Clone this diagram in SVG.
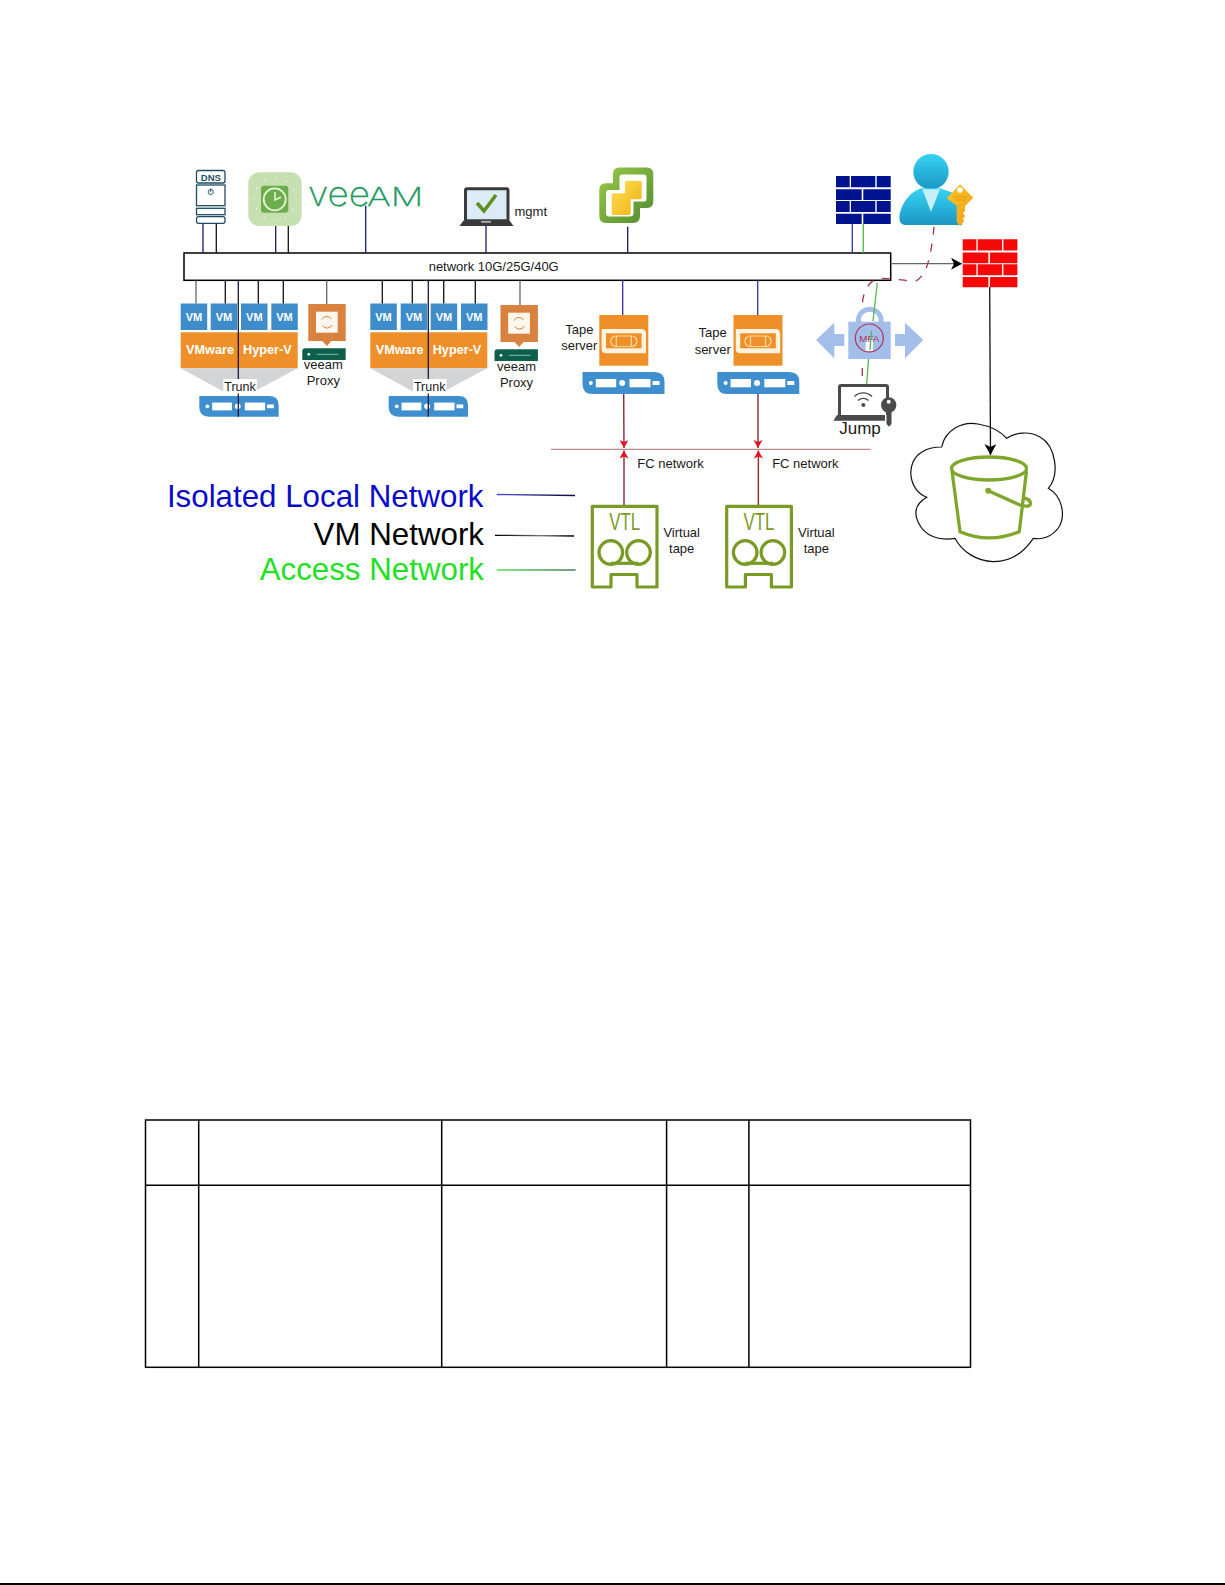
<svg xmlns="http://www.w3.org/2000/svg" width="1225" height="1585" viewBox="0 0 1225 1585">
<style>
text{font-family:"Liberation Sans",Arial,sans-serif}
.lb{font-size:13px;fill:#1a1a1a;text-anchor:middle}
.vm{font-size:11px;font-weight:700;fill:#fff;text-anchor:middle}
.hv{font-size:12.7px;font-weight:700;fill:#fff;text-anchor:middle}
.leg{font-size:31.3px;text-anchor:end}
.vee{font-family:Inter,"Liberation Sans",sans-serif;font-weight:200;fill:#1f9a5f;stroke:#1f9a5f;stroke-width:.3}
.c{fill:none;stroke-width:1.3}
.blk{stroke:#111}
.nvy{stroke:#1a1a6e}
.blu{stroke:#3030b0}
.gry{stroke:#666}
.grn{stroke:#4fb84f}
.fc{stroke:#8a2a2a;stroke-width:1.4}
.dash{stroke:#a3324f;stroke-dasharray:8 9}
.tb{fill:none;stroke:#000;stroke-width:1.5}
</style>
<defs>
<marker id="ah" markerUnits="userSpaceOnUse" markerWidth="13" markerHeight="13" refX="11" refY="6" orient="auto"><path d="M0 0L11 6L0 12L3 6Z" fill="#000"/></marker>
<marker id="rh" markerUnits="userSpaceOnUse" markerWidth="10" markerHeight="10" refX="8" refY="4.5" orient="auto"><path d="M0 0L8 4.5L0 9L2 4.5Z" fill="#e8101f"/></marker>
<linearGradient id="gb" gradientUnits="userSpaceOnUse" x1="497" y1="0" x2="575" y2="0"><stop offset="0" stop-color="#4a4ad8"/><stop offset=".6" stop-color="#20206a"/><stop offset="1" stop-color="#10103a"/></linearGradient>
<linearGradient id="gk" gradientUnits="userSpaceOnUse" x1="495" y1="0" x2="574" y2="0"><stop offset="0" stop-color="#000"/><stop offset=".6" stop-color="#777"/><stop offset="1" stop-color="#000"/></linearGradient>
<linearGradient id="gg" gradientUnits="userSpaceOnUse" x1="497" y1="0" x2="575" y2="0"><stop offset="0" stop-color="#55e055"/><stop offset="1" stop-color="#4a7a5a"/></linearGradient>
<linearGradient id="gp" x1="0" y1="0" x2="0" y2="1"><stop offset="0" stop-color="#35d3f3"/><stop offset="1" stop-color="#1b96c4"/></linearGradient>
<linearGradient id="gv" x1="0" y1="0" x2="1" y2="1"><stop offset="0" stop-color="#9ccb4a"/><stop offset="1" stop-color="#4f8a2f"/></linearGradient>
<linearGradient id="gy" x1="0" y1="0" x2="1" y2="1"><stop offset="0" stop-color="#fbd94a"/><stop offset="1" stop-color="#f2b81f"/></linearGradient>
<linearGradient id="gkey" x1="0" y1="0" x2="1" y2="1"><stop offset="0" stop-color="#fbc62e"/><stop offset="1" stop-color="#ef9f12"/></linearGradient>
<g id="srv"><path d="M0 0H72Q82 0 82 10V22H10Q0 22 0 12Z" fill="#3f8fd0"/><circle cx="8.3" cy="11" r="2" fill="#fff"/><rect x="13.3" y="7" width="20.4" height="8.3" fill="#fff"/><circle cx="39.7" cy="11" r="3" fill="#fff"/><rect x="47" y="7" width="21" height="8.3" fill="#fff"/><rect x="70" y="9" width="7" height="4" fill="#fff"/></g>
<g id="fw"><path d="M0 0H13.7V11.3H0ZM15 0H39.3V11.3H15ZM40.7 0H54.7V11.3H40.7ZM0 13.3H25.7V24H0ZM27.3 13.3H54.7V24H27.3ZM0 25H13.7V36H0ZM15 25H39.3V36H15ZM40.7 25H54.7V36H40.7ZM0 37.7H25.7V48H0ZM27.3 37.7H54.7V48H27.3Z"/></g>
<g id="vmb"><rect width="26.5" height="26.5" fill="#3f8ccb"/></g>
<g id="stack"><rect width="117" height="36" y="0" fill="#ee8f2a"/><path d="M0 36H117L72 60H44Z" fill="#d2d4d6"/></g>
<g id="tape"><rect width="49" height="50.7" fill="#ee8f2a"/><path d="M2.3 14H42Q46.7 14 46.7 19V38.3H7Q2.3 38.3 2.3 34Z" fill="#fdf3df"/><rect x="6.7" y="18.3" width="35.6" height="15" fill="#ee8f2a"/><rect x="11.5" y="21" width="26" height="10.5" rx="5" fill="none" stroke="#f8dc9a" stroke-width="1.2"/><path d="M17 21V31.5M32 21V31.5" stroke="#f8dc9a" stroke-width="1.2"/></g>
<g id="vtlb"><path d="M1.3 1.3H66V82H46V69.5H20V82H1.300Z" fill="#fff" stroke="#7a9a26" stroke-width="3.2" stroke-linejoin="round"/><circle cx="19.8" cy="47.5" r="11.8" fill="none" stroke="#7a9a26" stroke-width="3.2"/><circle cx="47.5" cy="47.5" r="11.8" fill="none" stroke="#7a9a26" stroke-width="3.2"/><path d="M19.8 58.300H47.5" stroke="#7a9a26" stroke-width="3.2"/></g>
<g id="prx"><path d="M0 0H37.4V37H23L18.7 42L14 37H0Z" fill="#d9813f"/><rect x="7.7" y="7.7" width="21.7" height="21" fill="#fdf7ee"/><path d="M13.7 15.5A5.2 5.2 0 0 1 23 15M23.7 21A5.2 5.2 0 0 1 14.4 21.5" fill="none" stroke="#d9813f" stroke-width="1"/></g>
<g id="gsrv"><path d="M3 0H43.4V11.7H0V3Q0 0 3 0Z" fill="#0e5f4b"/><circle cx="6.5" cy="6" r="1.4" fill="#fff"/><path d="M14.5 6H36" stroke="#8fc7b4" stroke-width=".9"/></g>
</defs>
<rect width="1225" height="1585" fill="#fff"/>

<g id="nodes">
<g id="dns" fill="#fff" stroke="#1f4e63" stroke-width="1.3"><rect x="196.5" y="170.5" width="28.5" height="12.5" rx="2"/><rect x="196.5" y="185" width="28.5" height="20.7"/><rect x="196.5" y="208.3" width="28.5" height="6.4"/><rect x="196.5" y="216.7" width="28.5" height="6.6" rx="2"/><text x="210.8" y="180.5" font-size="9.5" font-weight="700" fill="#1f4e63" stroke="none" text-anchor="middle">DNS</text><circle cx="210.7" cy="192" r="2.6" fill="none" stroke-width=".9"/><path d="M210.7 188.5V192" stroke-width=".9"/></g>
<g id="clock"><rect x="248.3" y="172.3" width="53.4" height="53.7" rx="11" fill="#c6e0b2"/><circle cx="275" cy="199" r="21" fill="none" stroke="#eef6e6" stroke-width="1.6" stroke-linecap="round" stroke-dasharray="0.1 10.9"/><rect x="261" y="185.7" width="27.3" height="27" rx="3" fill="#6cae4d"/><circle cx="274.7" cy="199.3" r="11" fill="#6cae4d" stroke="#e6f2d8" stroke-width="1.8"/><path d="M275 192V200L281 197" fill="none" stroke="#e6f2d8" stroke-width="1.5"/></g>
<g id="veeam"><text x="308" y="206" font-size="34" class="vee" textLength="62" lengthAdjust="spacingAndGlyphs">vee</text><text x="367" y="206" font-size="25.5" class="vee" textLength="56.5" lengthAdjust="spacingAndGlyphs">AM</text></g>
<g id="mgmt"><rect x="465.5" y="188.8" width="42.5" height="32" rx="1.5" fill="#dcecf6" stroke="#3a3a3a" stroke-width="3"/><path d="M463.5 220.5H509.5L513.5 226H459.5Z" fill="#3a3a3a"/><rect x="481" y="220.8" width="10" height="2" fill="#aaa"/><path d="M477 203L484 211L496 195" fill="none" stroke="#5f8f1f" stroke-width="3.6"/><text x="514.5" y="216" font-size="13" fill="#1a1a1a">mgmt</text></g>
<g id="vcenter"><path d="M619 167.5H647Q653.3 167.5 653.3 174V201Q653.3 208 647 208H640V216Q640 223 633 223H606Q599.3 223 599.3 216V190Q599.3 183.3 606 183.3H613V174Q613 167.5 619 167.5Z" fill="url(#gv)"/><path d="M622 174.500H644Q646.500 174.500 646.500 177V199Q646.500 201.500 644 201.500H633.500V213Q633.500 216.500 630 216.500H609Q606 216.500 606 213V193Q606 190 609 190H619.500V177Q619.500 174.500 622 174.500Z" fill="#fff"/><rect x="625" y="180.700" width="16.700" height="18.600" rx="2" fill="url(#gy)"/><rect x="611.700" y="193.300" width="19" height="21.700" rx="2" fill="url(#gy)"/></g>
<g id="fw-inner"><use href="#fw" x="836" y="176" fill="#00138f"/></g>
<g id="user"><circle cx="931" cy="171.7" r="17.7" fill="url(#gp)"/><path d="M921.700 188.300C908 192 899 208 899.500 219Q900 225 906 225H962V200C958 194 948 191 940 188.300Z" fill="url(#gp)"/><path d="M922.300 189.300H940L931 211.700Z" fill="#c5f0f7"/><path d="M960 184.300L973.300 197.700L965 206L965 211L963 213L965 216L963 219L964 221L960 226L956.700 222V206L946.700 198.300Z" fill="url(#gkey)"/><circle cx="960" cy="190" r="2.800" fill="#fff"/><path d="M953 197H967M954 200H966" stroke="#e09a10" stroke-width=".8"/></g>
<g id="fw-edge"><use href="#fw" x="962.700" y="239.300" fill="#f40808"/></g>
<g id="network"><rect x="184" y="253" width="706.700" height="27.300" fill="#fff" stroke="#000" stroke-width="1.500"/><text x="493.700" y="270.500" class="lb">network 10G/25G/40G</text></g>

<g id="vm-host-1">
<use href="#vmb" x="180.700" y="303.500"/><use href="#vmb" x="210.700" y="303.500"/><use href="#vmb" x="241" y="303.500"/><use href="#vmb" x="271.300" y="303.500"/>
<text x="194" y="321" class="vm">VM</text><text x="224" y="321" class="vm">VM</text><text x="254.300" y="321" class="vm">VM</text><text x="284.500" y="321" class="vm">VM</text>
<use href="#stack" x="180.700" y="332.300"/>
<text x="210" y="353.500" class="hv">VMware</text><text x="267.300" y="353.500" class="hv">Hyper-V</text>
<use href="#srv" transform="translate(199.300 396) scale(.968 .94)"/>
</g>
<g id="vm-host-2">
<use href="#vmb" x="370.300" y="303.500"/><use href="#vmb" x="400.700" y="303.500"/><use href="#vmb" x="430.700" y="303.500"/><use href="#vmb" x="461" y="303.500"/>
<text x="383.500" y="321" class="vm">VM</text><text x="414" y="321" class="vm">VM</text><text x="444" y="321" class="vm">VM</text><text x="474.200" y="321" class="vm">VM</text>
<use href="#stack" x="370.300" y="332.300"/>
<text x="399.700" y="353.500" class="hv">VMware</text><text x="457" y="353.500" class="hv">Hyper-V</text>
<use href="#srv" transform="translate(388.700 396) scale(.968 .94)"/>
</g>
<g id="proxy-1"><use href="#prx" x="308.300" y="304"/><use href="#gsrv" x="302.300" y="348.300"/><text x="323.300" y="368.500" class="lb">veeam</text><text x="323.300" y="385" class="lb">Proxy</text></g>
<g id="proxy-2"><use href="#prx" x="500.500" y="305"/><use href="#gsrv" x="494.500" y="349.300"/><text x="516.500" y="370.500" class="lb">veeam</text><text x="516.500" y="387" class="lb">Proxy</text></g>
<g id="tape-1"><use href="#tape" x="599.300" y="315"/><use href="#srv" x="582.500" y="372"/><text x="579.300" y="334" class="lb">Tape</text><text x="579.300" y="350" class="lb">server</text></g>
<g id="tape-2"><use href="#tape" x="733.500" y="315"/><use href="#srv" x="717.300" y="372"/><text x="712.700" y="337" class="lb">Tape</text><text x="712.700" y="353.500" class="lb">server</text></g>
<g id="mfa"><path d="M816 340L834.300 322.700V334H844.300V346H834.300V358.300Z" fill="#a3bee8"/><path d="M895 334H905V322.700L923.300 340L905 358.300V346H895Z" fill="#a3bee8"/><path d="M858.500 322V318A11.500 11 0 0 1 881 318V322" fill="none" stroke="#a3bee8" stroke-width="5"/><rect x="848.300" y="321.700" width="42.400" height="37.300" fill="#a3bee8"/><path d="M866 340H873V351H865.500Z" fill="#fff"/><circle cx="869.300" cy="338" r="14" fill="none" stroke="#b0335a" stroke-width="1.200"/><text x="869.300" y="341.500" font-size="9.800" fill="#b5325a" text-anchor="middle">MFA</text></g>
<g id="jump"><path d="M839.500 415V387Q839.500 385.500 841 385.500H886Q887.500 385.500 887.500 387V415" fill="#fff" stroke="#4a4a4a" stroke-width="3"/><path d="M837 415H885V420.700H833.300Z" fill="#4a4a4a"/><circle cx="863.300" cy="405" r="2" fill="#4a4a4a"/><path d="M858 400.500A7.500 7.500 0 0 1 868.500 400.500M854.500 396.500A12.500 12.500 0 0 1 872 396.500" fill="none" stroke="#4a4a4a" stroke-width="1.300"/><circle cx="888.700" cy="405" r="7.700" fill="#4a4a4a"/><circle cx="888.700" cy="401.700" r="2" fill="#fff"/><path d="M886.500 408H891.500V424L889 426.700L886.500 424Z" fill="#4a4a4a"/><text x="860" y="434" font-size="17" fill="#1a1a1a" text-anchor="middle">Jump</text></g>
<g id="cloud"><path d="M926.700 497.300C908 490 905 462 922 452C928 448 935 447 941.700 447C945 430 962 421 978 424C990 426 1000 431 1006.700 438.300C1016 432 1030 431 1040 437C1056 446 1060 475 1048.300 488.300C1062 496 1066 515 1059 527C1052 537 1042 540 1033.300 538.300C1022 555 1008 562 993 561.700C977 561 962 552 955 538.300C940 541 925 537 918 522C913 511 917 503 926.700 497.300Z" fill="#fff" stroke="#111" stroke-width="1.200"/></g>
<g id="bucket" fill="none" stroke="#7ea72c" stroke-width="3.300"><ellipse cx="989" cy="468.500" rx="37.500" ry="11.500"/><path d="M952 471L960 531.700Q989 544 1019.300 531.700L1026.500 471"/><path d="M988.300 490.700L1020 505Q1030 508 1030.500 503.500Q1030 499 1024 498"/><circle cx="988.300" cy="490.700" r="3" fill="#7ea72c" stroke="none"/></g>
<g id="vtl-1"><use href="#vtlb" x="591" y="505"/><text x="624.700" y="530" font-size="23" fill="#7a9a26" text-anchor="middle" textLength="31" lengthAdjust="spacingAndGlyphs">VTL</text><text x="681.700" y="536.700" class="lb">Virtual</text><text x="681.700" y="553.300" class="lb">tape</text></g>
<g id="vtl-2"><use href="#vtlb" x="725.400" y="505"/><text x="759" y="530" font-size="23" fill="#7a9a26" text-anchor="middle" textLength="31" lengthAdjust="spacingAndGlyphs">VTL</text><text x="816.400" y="536.700" class="lb">Virtual</text><text x="816.400" y="553.300" class="lb">tape</text></g>
<g id="legend"><text x="483.500" y="506.700" class="leg" fill="#0a0ac8">Isolated Local Network</text><text x="484" y="545" class="leg" fill="#000">VM Network</text><text x="484" y="580" class="leg" fill="#22e022">Access Network</text></g>
<g id="fc-labels"><text x="670.600" y="468" class="lb">FC network</text><text x="805.400" y="468" class="lb">FC network</text></g>
<g id="table"><rect x="145.500" y="1120" width="825" height="247.300" class="tb"/><path d="M145.500 1185.300H970.500M198.700 1120V1367.300M441.700 1120V1367.300M666.600 1120V1367.300M748.900 1120V1367.300" class="tb"/></g>
</g>

<g id="connectors">
<path class="c nvy" d="M203 223.500V253"/><path class="c blk" d="M216.300 223.500V253"/>
<path class="c nvy" d="M275.700 226V253"/><path class="c blk" d="M288.300 226V253"/>
<path class="c nvy" d="M365.700 205.700V253"/><path class="c nvy" d="M486 226V253"/><path class="c nvy" d="M627.700 226.700V253"/>
<path class="c blu" d="M852.300 224V253"/><path class="c grn" d="M863.300 224V253"/>
<path class="c gry" d="M196 280.300V303.500"/><path class="c blk" d="M225.300 280.300V303.500"/><path class="c blk" d="M258.300 280.300V303.500"/><path class="c blk" d="M283.300 280.300V303.500"/>
<path class="c gry" d="M326.700 280.300V304" stroke-width="1.600"/>
<path class="c blk" d="M382.300 280.300V303.500"/><path class="c blk" d="M412.300 280.300V303.500"/><path class="c blk" d="M443.700 280.300V303.500"/><path class="c blk" d="M475.300 280.300V303.500"/>
<path class="c gry" d="M520 280.300V305"/>
<path class="c" stroke="#1a1a3a" d="M238.300 280.300V416.700"/><path class="c" stroke="#1a1a3a" d="M428.300 280.300V416.700"/>
<path class="c blu" d="M622.700 280.300V315"/><path class="c blu" d="M757.700 280.300V315"/>
<path class="c fc" d="M623.700 394L624 448" marker-end="url(#rh)"/><path class="c fc" d="M758 394V448" marker-end="url(#rh)"/>
<path class="c fc" d="M624 505V450.500" marker-end="url(#rh)"/><path class="c fc" d="M758.400 505V450.500" marker-end="url(#rh)"/>
<path class="c" stroke="#c08a8a" d="M551 449.300H870.700"/>
<path class="c gry" stroke-width="1.500" d="M890.700 263.700H962" marker-end="url(#ah)"/>
<path class="c blk" d="M989.700 287L990.500 455" marker-end="url(#ah)"/>
<path class="c dash" d="M934 226.700C933 240 930 258 926.700 266.700C923 276 918 281 914.300 281C905 281 895 278.500 880 278.500C870 278.500 862 292 862.300 307"/>
<path class="c" stroke="#a3324f" d="M862.300 368V376"/>
<path class="c grn" d="M877.300 282.700L873 321M871.500 331L870 350M868.500 359L866.700 384.300"/>
<path class="c" stroke="url(#gb)" d="M496.700 494.500L575 495.500"/>
<path class="c" stroke="url(#gk)" d="M495 535.300L574 536"/>
<path class="c" stroke="url(#gg)" d="M496.700 570H575L574.900 570.500"/>
</g>

<g id="trunk-1"><rect x="223.300" y="379" width="33.500" height="14.500" fill="#fff"/><text x="240" y="391" font-size="12.500" fill="#1a1a1a" text-anchor="middle">Trunk</text></g>
<g id="trunk-2"><rect x="413" y="379" width="33.500" height="14.500" fill="#fff"/><text x="429.700" y="391" font-size="12.500" fill="#1a1a1a" text-anchor="middle">Trunk</text></g>
<rect id="page-edge" x="0" y="1583" width="1225" height="2" fill="#000"/>
</svg>
